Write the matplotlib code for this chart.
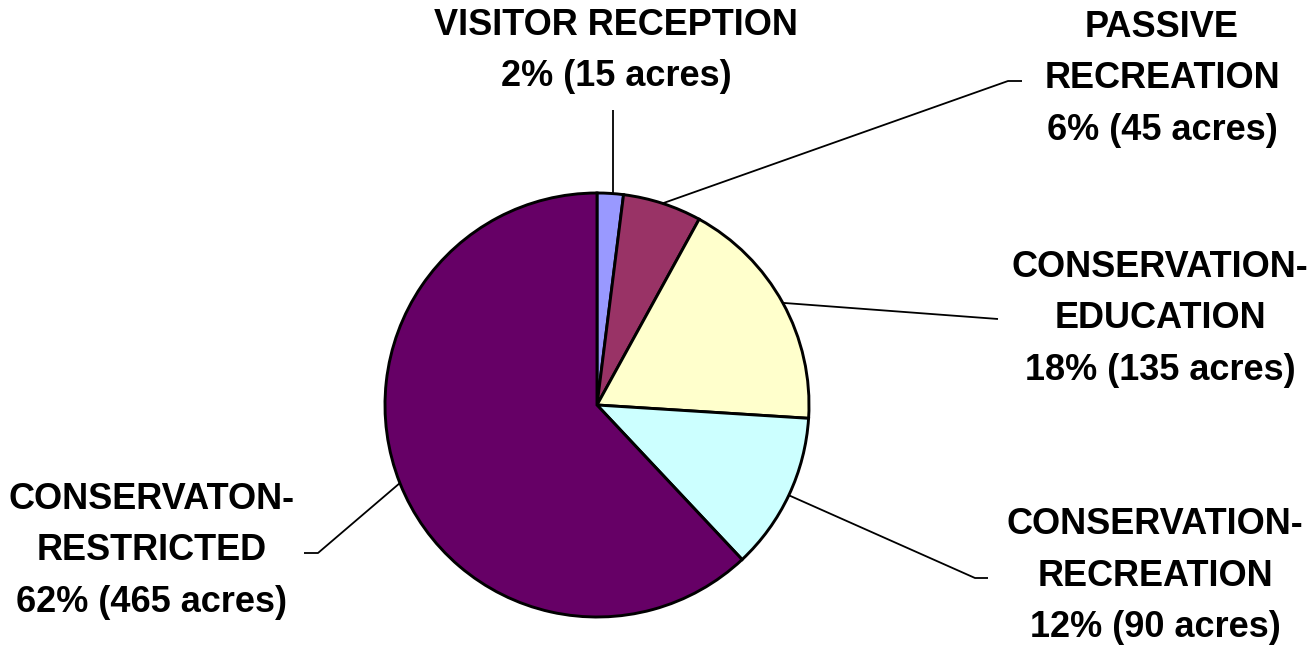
import numpy as np
import matplotlib.pyplot as plt

# land use split, acres
categories = ['VISITOR RECEPTION', 'PASSIVE\nRECREATION', 'CONSERVATION-\nEDUCATION',
              'CONSERVATION-\nRECREATION', 'CONSERVATON-\nRESTRICTED']
acres = [15, 45, 135, 90, 465]
percents = [2, 6, 18, 12, 62]
colors = ['#9999FF', '#993366', '#FFFFCC', '#CCFFFF', '#660066']

W, H = 1316, 651
CX, CY, R = 597, 405, 212  # pie centre / radius in pixels


def px(x, y):
    # pixel position -> pie units
    return ((x - CX) / R, (CY - y) / R)


fig = plt.figure(figsize=(W / 100, H / 100), dpi=100)
ax = fig.add_axes([0, 0, 1, 1])

wedges, _ = ax.pie(acres, colors=colors, startangle=90, counterclock=False,
                   radius=1, center=(0, 0),
                   wedgeprops=dict(edgecolor='black', linewidth=2.1))

# pie() resets the limits, so set them afterwards
ax.set_xlim(px(0, 0)[0], px(W, 0)[0])
ax.set_ylim(px(0, H)[1], px(0, 0)[1])
ax.set_aspect('equal')
ax.axis('off')

# label centre (pixels) and leader elbow points (pixels)
label_pos = [(616, 51), (1162, 79), (1160, 319), (1155, 576), (152, 551)]
elbows = [[(613, 110)],
          [(1008, 81), (1022, 81)],
          [(998, 319)],
          [(975, 578), (988, 578)],
          [(318, 553), (304, 553)]]

for i, (w, cat, pct, a, (lx, ly), elb) in enumerate(
        zip(wedges, categories, percents, acres, label_pos, elbows)):
    mid = np.deg2rad((w.theta1 + w.theta2) / 2)
    x0, y0 = np.cos(mid), np.sin(mid)
    if i == 0:
        # vertical leader straight up from the thin slice
        x0 = px(elb[0][0], 0)[0]
        y0 = np.sqrt(1 - x0 ** 2)
    pts = [(x0, y0)] + [px(*p) for p in elb]
    ax.plot([p[0] for p in pts], [p[1] for p in pts], color='black', lw=1.3,
            solid_capstyle='butt', zorder=3)
    label = f'{cat}\n{pct}% ({a} acres)'
    tx, ty = px(lx, ly)
    ax.text(tx, ty, label, ha='center', va='center', multialignment='center',
            fontsize=26, fontweight='bold', family='Liberation Sans',
            linespacing=1.62)

fig.savefig('out.png', dpi=100)
